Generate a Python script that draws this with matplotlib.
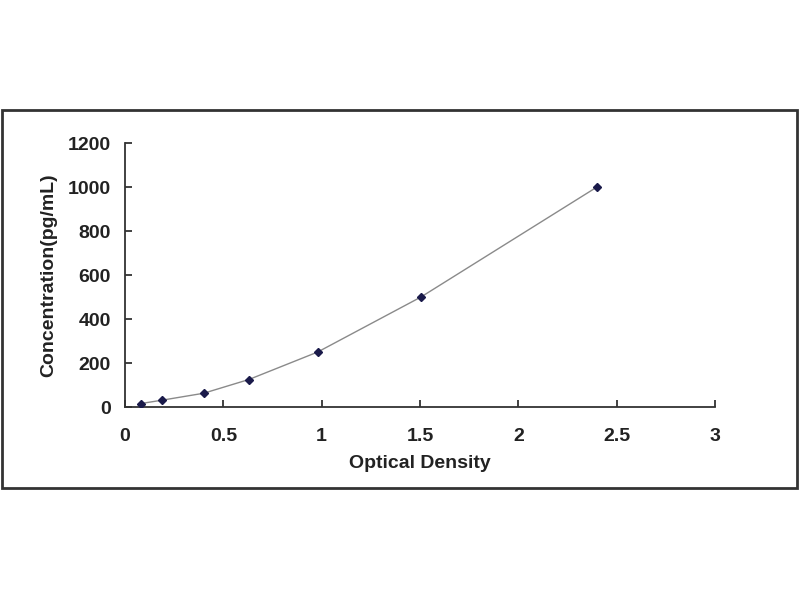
import matplotlib
matplotlib.use("Agg")
import matplotlib.pyplot as plt
from matplotlib.patches import Rectangle

# standard curve points
od = [0.08, 0.19, 0.40, 0.63, 0.98, 1.505, 2.40]
conc = [15.6, 31.25, 62.5, 125, 250, 500, 1000]

x_ticks = [0, 0.5, 1, 1.5, 2, 2.5, 3]
x_tick_labels = ["0", "0.5", "1", "1.5", "2", "2.5", "3"]
y_ticks = [0, 200, 400, 600, 800, 1000, 1200]

plt.rcParams["font.family"] = ["Liberation Sans", "DejaVu Sans"]

fig = plt.figure(figsize=(8, 6), dpi=100)
fig.patch.set_facecolor("white")

# outer frame around the chart
fig.patches.append(Rectangle((2 / 800, 1 - 488 / 600), 795 / 800, 378 / 600,
                             transform=fig.transFigure, fill=False,
                             edgecolor="#333333", linewidth=2))

ax = fig.add_axes([125 / 800, 1 - 407 / 600, 590 / 800, 264 / 600])
ax.plot(od, conc, color="#8a8a8a", linewidth=1, zorder=2)
ax.plot(od, conc, linestyle="none", marker="D", markersize=4,
        color="#1a1a4a", zorder=3)

ax.set_xlim(0, 3)
ax.set_ylim(0, 1200)
ax.set_xticks(x_ticks)
ax.set_xticklabels(x_tick_labels)
ax.set_yticks(y_ticks)

for side in ("top", "right"):
    ax.spines[side].set_visible(False)
for side in ("left", "bottom"):
    ax.spines[side].set_color("#333333")
    ax.spines[side].set_linewidth(1.3)

ax.tick_params(direction="in", length=5, width=1.3, color="#333333",
               labelsize=14)
ax.tick_params(axis="x", pad=15)
ax.tick_params(axis="y", pad=10)
for t in ax.get_xticklabels() + ax.get_yticklabels():
    t.set_fontweight("bold")
    t.set_color("#222222")

ax.set_xlabel("Optical Density", fontsize=14, fontweight="bold",
              color="#222222", labelpad=7)
ax.set_ylabel("Concentration(pg/mL)", fontsize=14, fontweight="bold",
              color="#222222", labelpad=8)

fig.savefig("out.png", dpi=100)
